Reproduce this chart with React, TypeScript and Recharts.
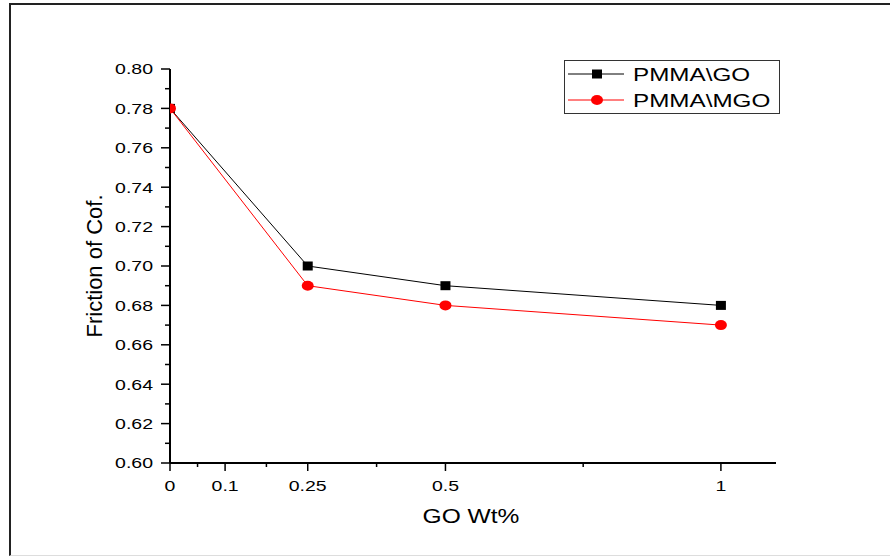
import { Label, Legend, Line, LineChart, XAxis, YAxis } from "recharts";

// GO content (wt%) and friction coefficient for each composite
const GO_WT = [0, 0.25, 0.5, 1];
const PMMA_GO = [0.78, 0.7, 0.69, 0.68];
const PMMA_MGO = [0.78, 0.69, 0.68, 0.67];

const X_MAJOR = [0, 0.1, 0.25, 0.5, 1];
const X_MINOR = [0.05, 0.175, 0.375, 0.75];
const Y_MAJOR = [0.6, 0.62, 0.64, 0.66, 0.68, 0.7, 0.72, 0.74, 0.76, 0.78, 0.8];
const Y_MINOR = [0.61, 0.63, 0.65, 0.67, 0.69, 0.71, 0.73, 0.75, 0.77, 0.79];

const FONT = '"Liberation Sans", Arial, sans-serif';

const data = GO_WT.map((x, i) => ({ x, go: PMMA_GO[i], mgo: PMMA_MGO[i] }));

function XTick({ x, y, payload }: any) {
  const major = X_MAJOR.includes(payload.value);
  return (
    <g>
      <line x1={x} x2={x} y1={y} y2={y + (major ? 8 : 4)} stroke="#000" strokeWidth={1.5} />
      {major && (
        <g transform={`translate(${x},${y + 28}) scale(1.3,1)`}>
          <text x={0} y={0} textAnchor="middle" fontSize={15} fontFamily={FONT} fill="#000">
            {String(payload.value)}
          </text>
        </g>
      )}
    </g>
  );
}

function YTick({ x, y, payload }: any) {
  const major = Y_MAJOR.includes(payload.value);
  return (
    <g>
      <line x1={x - (major ? 9 : 5)} x2={x} y1={y} y2={y} stroke="#000" strokeWidth={1.5} />
      {major && (
        <g transform={`translate(${x - 17},${y}) scale(1.3,1)`}>
          <text x={0} y={0} dy="0.36em" textAnchor="end" fontSize={15} fontFamily={FONT} fill="#000">
            {payload.value.toFixed(2)}
          </text>
        </g>
      )}
    </g>
  );
}

const SquareDot = ({ cx, cy }: any) =>
  cx == null ? null : <rect x={cx - 5} y={cy - 4.5} width={10} height={9} fill="#000" />;

const CircleDot = ({ cx, cy }: any) =>
  cx == null ? null : <ellipse cx={cx} cy={cy} rx={6} ry={5} fill="#ff0000" />;

function LegendBox({ payload }: any) {
  const rows = payload ?? [];
  return (
    <svg width={216} height={54} style={{ display: "block" }}>
      <rect x={0.5} y={0.5} width={215} height={53} fill="#fff" stroke="#333" strokeWidth={1} />
      {rows.map((p: any, i: number) => {
        const cy = 14 + i * 26;
        const color = p.dataKey === "go" ? "#000" : "#ff0000";
        return (
          <g key={p.value}>
            <line x1={4} x2={60} y1={cy} y2={cy} stroke={color} strokeWidth={1} />
            {p.dataKey === "go" ? (
              <rect x={28} y={cy - 4.5} width={10} height={9} fill="#000" />
            ) : (
              <ellipse cx={33} cy={cy} rx={6} ry={5} fill="#ff0000" />
            )}
            <g transform={`translate(69,${cy + 6.5}) scale(1.31,1)`}>
              <text x={0} y={0} fontSize={18.5} fontFamily={FONT} fill="#000">
                {p.value}
              </text>
            </g>
          </g>
        );
      })}
    </svg>
  );
}

export default function App() {
  return (
    <div
      style={{
        position: "absolute",
        left: 0,
        top: 0,
        width: 890,
        height: 556,
        background: "#fff",
        overflow: "hidden",
        fontFamily: FONT,
      }}
    >
      <div
        style={{
          position: "absolute",
          left: 9,
          top: 3,
          width: 890,
          height: 550,
          borderLeft: "2px solid #222",
          borderTop: "2px solid #222",
          borderBottom: "1px solid #ddd",
        }}
      />
      <div style={{ position: "absolute", left: 0, top: 0 }}>
        <LineChart
          width={890}
          height={556}
          data={data}
          margin={{ top: 69, right: 114, bottom: 53, left: 90 }}
        >
          <XAxis
            dataKey="x"
            type="number"
            domain={[0, 1.1]}
            ticks={[...X_MAJOR, ...X_MINOR]}
            interval={0}
            allowDataOverflow
            height={40}
            axisLine={{ stroke: "#000", strokeWidth: 2 }}
            tickLine={false}
            tickSize={0}
            tickMargin={0}
            tick={<XTick />}
          >
            <Label
              content={({ viewBox }: any) => (
                <g transform={`translate(${viewBox.x + viewBox.width / 2 - 2},${viewBox.y + 60}) scale(1.17,1)`}>
                  <text x={0} y={0} textAnchor="middle" fontSize={21} fontFamily={FONT} fill="#000">
                    GO Wt%
                  </text>
                </g>
              )}
            />
          </XAxis>
          <YAxis
            type="number"
            domain={[0.6, 0.8]}
            ticks={[...Y_MAJOR, ...Y_MINOR]}
            interval={0}
            width={80}
            axisLine={{ stroke: "#000", strokeWidth: 2 }}
            tickLine={false}
            tickSize={0}
            tickMargin={0}
            tick={<YTick />}
          >
            <Label
              content={({ viewBox }: any) => (
                <text
                  transform={`translate(${viewBox.x + 12},${viewBox.y + viewBox.height / 2}) rotate(-90)`}
                  x={0}
                  y={0}
                  textAnchor="middle"
                  fontSize={22}
                  fontFamily={FONT}
                  fill="#000"
                >
                  Friction of Cof.
                </text>
              )}
            />
          </YAxis>
          <Legend
            layout="horizontal"
            verticalAlign="middle"
            align="center"
            wrapperStyle={{ position: "absolute", left: 564, top: 60, width: 216, height: 54 }}
            content={<LegendBox />}
          />
          <Line
            type="linear"
            dataKey="go"
            name="PMMA\GO"
            stroke="#000"
            strokeWidth={1}
            dot={<SquareDot />}
            activeDot={false}
            isAnimationActive={false}
          />
          <Line
            type="linear"
            dataKey="mgo"
            name="PMMA\MGO"
            stroke="#ff0000"
            strokeWidth={1}
            dot={<CircleDot />}
            activeDot={false}
            isAnimationActive={false}
          />
        </LineChart>
      </div>
    </div>
  );
}
